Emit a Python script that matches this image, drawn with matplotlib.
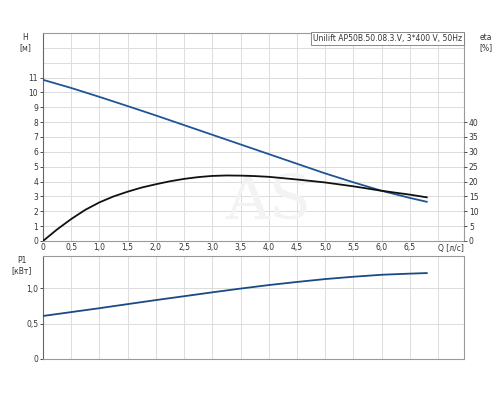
import matplotlib
matplotlib.use('Agg')
import matplotlib.pyplot as plt

# pump curve data
q = [0, 0.5, 1.0, 1.5, 2.0, 2.5, 3.0, 3.5, 4.0, 4.5, 5.0, 5.5, 6.0, 6.5, 6.8]
head = [10.85, 10.3, 9.7, 9.08, 8.45, 7.8, 7.15, 6.5, 5.85, 5.2, 4.55, 3.95, 3.38, 2.9, 2.64]
p1 = [0.61, 0.665, 0.72, 0.778, 0.835, 0.89, 0.945, 0.998, 1.048, 1.092, 1.133, 1.166, 1.194, 1.21, 1.218]

q_eta = [0, 0.25, 0.5, 0.75, 1.0, 1.25, 1.5, 1.75, 2.0, 2.25, 2.5, 2.75, 3.0, 3.25,
         3.5, 3.75, 4.0, 4.5, 5.0, 5.5, 6.0, 6.5, 6.8]
eta = [0, 3.9, 7.4, 10.5, 13.0, 15.0, 16.6, 18.0, 19.1, 20.1, 20.9, 21.5, 21.9, 22.05,
       22.0, 21.85, 21.6, 20.7, 19.7, 18.4, 16.9, 15.6, 14.7]

x_ticks = [0, 0.5, 1.0, 1.5, 2.0, 2.5, 3.0, 3.5, 4.0, 4.5, 5.0, 5.5, 6.0, 6.5]
x_labels = ['0', '0,5', '1,0', '1,5', '2,0', '2,5', '3,0', '3,5', '4,0', '4,5', '5,0', '5,5', '6,0', '6,5']
h_ticks = list(range(0, 12))
eta_ticks = [0, 5, 10, 15, 20, 25, 30, 35, 40]
p_ticks = [0, 0.5, 1.0]
p_labels = ['0', '0,5', '1,0']

title = 'Unilift AP50B.50.08.3.V, 3*400 V, 50Hz'

plt.rcParams['font.family'] = ['DejaVu Sans']
fs = 5.5
grid_c = '#dcdcdc'
frame_c = '#9a9a9a'
txt_c = '#333333'

fig = plt.figure(figsize=(5, 4), dpi=100)
ax = fig.add_axes([0.086, 0.3975, 0.842, 0.52])
ax.set_xlim(0, 7.46)
ax.set_ylim(0, 14)

# grid: every 0.5 in Q, every 1 in H
for gx in [i * 0.5 for i in range(1, 15)]:
    ax.axvline(gx, color=grid_c, lw=0.7, zorder=0)
for gy in range(1, 14):
    ax.axhline(gy, color=grid_c, lw=0.7, zorder=0)

ax.plot(q, head, color='#1f5596', lw=1.3, zorder=3)
ax.plot(q_eta, [e / 5.0 for e in eta], color='#111111', lw=1.3, zorder=3)

ax.set_xticks(x_ticks)
ax.set_xticklabels(x_labels)
ax.set_yticks(h_ticks)
ax.tick_params(axis='both', labelsize=fs, colors=txt_c, length=2, width=0.6, pad=1.5)
ax.tick_params(axis='x', length=0)
for s in ax.spines.values():
    s.set_color(frame_c)
    s.set_linewidth(0.8)
ax.spines['left'].set_color('#666666')

ax2 = ax.twinx()
ax2.set_ylim(0, 70)
ax2.set_yticks(eta_ticks)
ax2.tick_params(axis='y', labelsize=fs, colors=txt_c, length=2, width=0.6, pad=1.5)
for s in ax2.spines.values():
    s.set_visible(False)

ax.text(7.0, -0.2, 'Q [л/с]', fontsize=fs, color=txt_c, ha='left', va='top')
ax.text(-0.32, 14.0, 'H\n[м]', fontsize=fs, color=txt_c, ha='center', va='top',
        linespacing=1.2)
ax.text(7.85, 14.0, 'eta\n[%]', fontsize=fs, color=txt_c, ha='center', va='top',
        linespacing=1.2)
ax.text(7.43, 13.93, title, fontsize=fs, color=txt_c, ha='right', va='top',
        bbox=dict(boxstyle='square,pad=0.25', fc='white', ec='#777777', lw=0.6),
        zorder=5)

# faint watermark
ax.text(4.0, 2.6, 'AS', fontsize=44, family='DejaVu Serif', color='#f3f3f3',
        ha='center', va='center', zorder=1)

bx = fig.add_axes([0.086, 0.1025, 0.842, 0.2575])
bx.set_xlim(0, 7.46)
bx.set_ylim(0, 1.46)
for gx in [i * 0.5 for i in range(1, 15)]:
    bx.axvline(gx, color=grid_c, lw=0.7, zorder=0)
for gy in [0.5, 1.0]:
    bx.axhline(gy, color=grid_c, lw=0.7, zorder=0)
bx.plot(q, p1, color='#1a4a82', lw=1.3, zorder=3)
bx.set_xticks(x_ticks)
bx.set_xticklabels([])
bx.set_yticks(p_ticks)
bx.set_yticklabels(p_labels)
bx.tick_params(axis='both', labelsize=fs, colors=txt_c, length=2, width=0.6, pad=1.5)
bx.tick_params(axis='x', length=0)
for s in bx.spines.values():
    s.set_color(frame_c)
    s.set_linewidth(0.8)
bx.spines['left'].set_color('#666666')
bx.text(-0.38, 1.46, 'P1\n[кВт]', fontsize=fs, color=txt_c, ha='center', va='top',
        linespacing=1.2)

fig.savefig('out.png', dpi=100)
